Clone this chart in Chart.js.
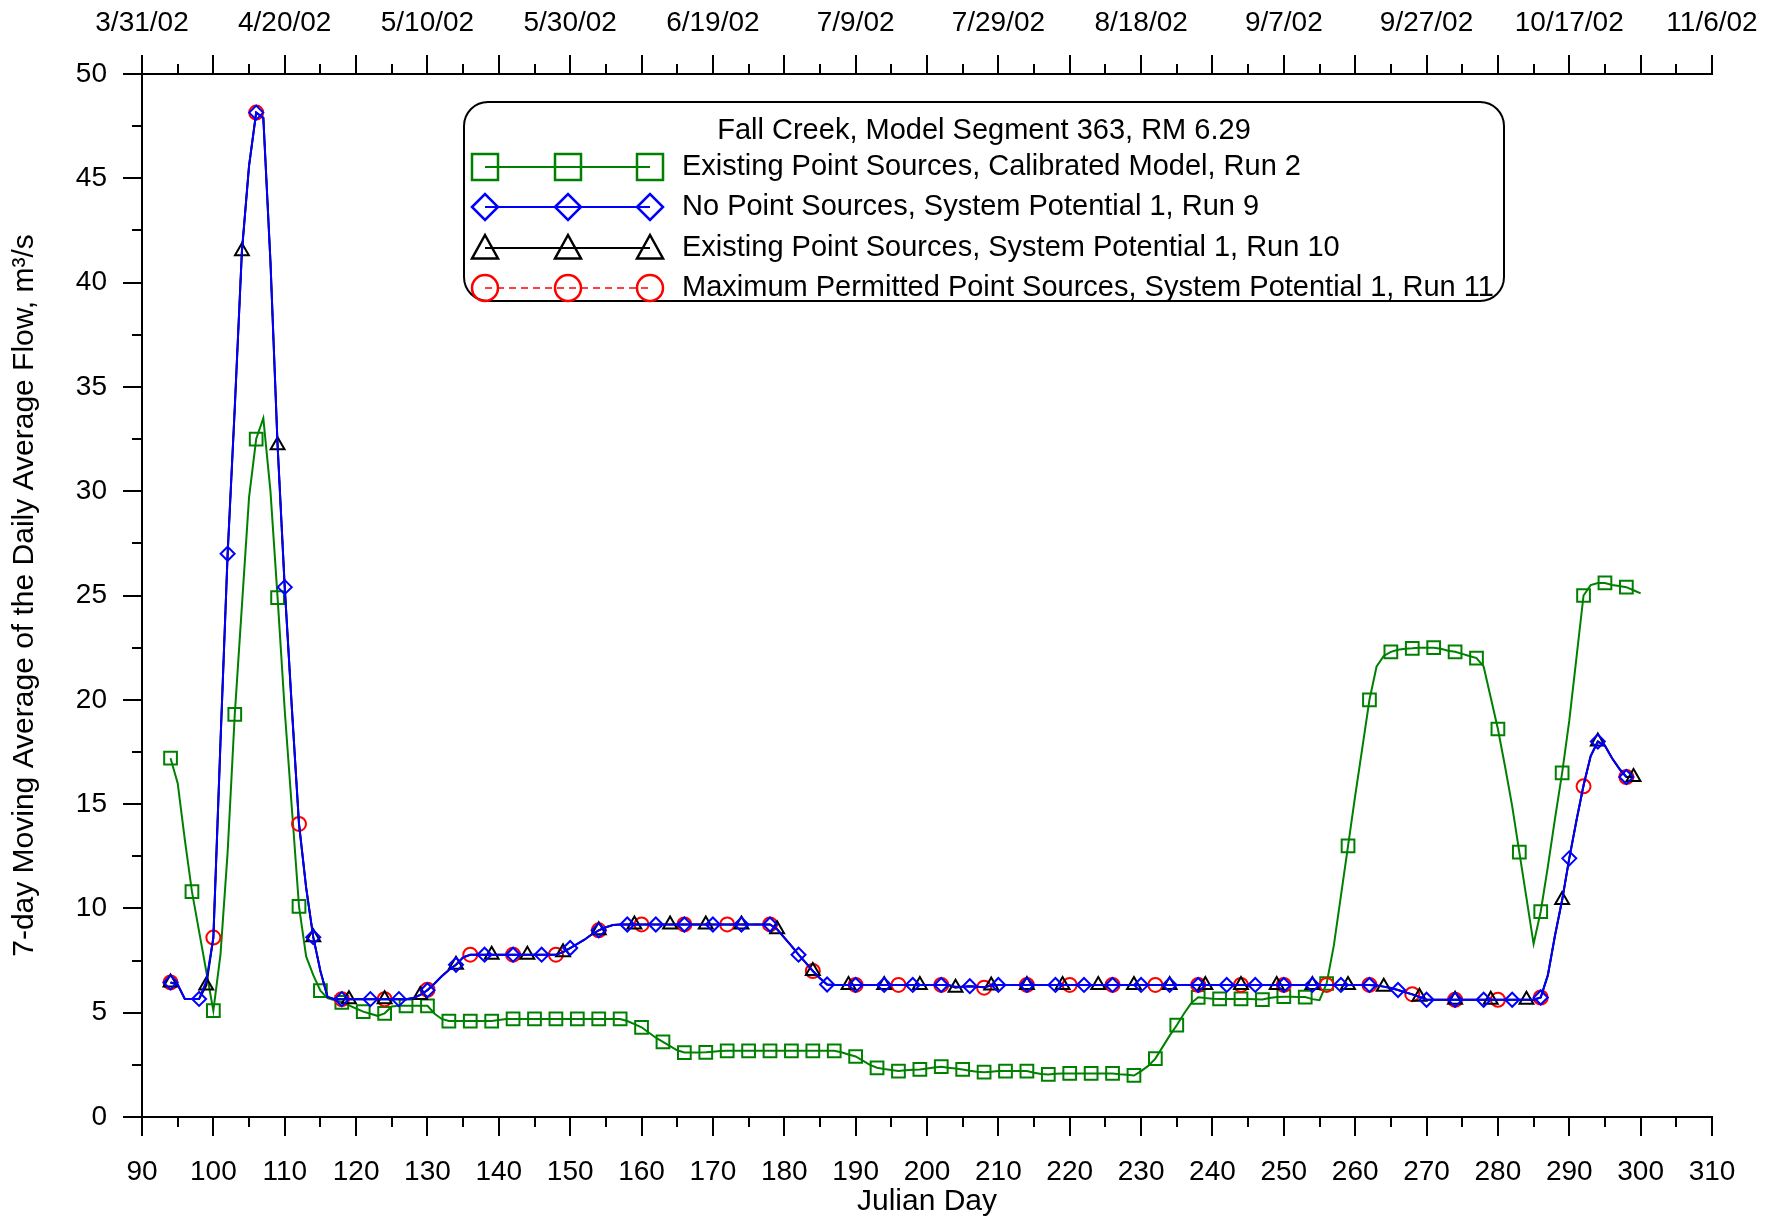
<!DOCTYPE html>
<html>
<head>
<meta charset="utf-8">
<title>Fall Creek, Model Segment 363</title>
<script src="https://cdn.jsdelivr.net/npm/chart.js@4.4.1/dist/chart.umd.min.js"></script>
<style>
  html, body { margin: 0; padding: 0; background: #fff; }
  #wrap { width: 1782px; height: 1220px; }
</style>
</head>
<body>
<div id="wrap"><canvas id="flowChart" width="1782" height="1220"></canvas></div>
<script>
// ==========================
// DATA (Julian day 94 onward, one value per day)
// ==========================
const julianDays = Array.from({ length: 207 }, (_, i) => 94 + i);

const topDateLabels = ["3/31/02", "4/20/02", "5/10/02", "5/30/02", "6/19/02", "7/9/02",
                       "7/29/02", "8/18/02", "9/7/02", "9/27/02", "10/17/02", "11/6/02"];

// Existing Point Sources, Calibrated Model, Run 2 (days 94-300)
const calibratedRun2 = [
  17.2, 16.0, 13.3, 10.8, 8.9, 7.0, 5.1, 7.8, 12.7, 19.3,
  24.5, 29.7, 32.5, 33.5, 30.0, 24.9, 19.5, 14.8, 10.1, 7.7,
  6.8, 6.06, 5.7, 5.6, 5.5, 5.35, 5.2, 5.05, 4.95, 4.85,
  4.97, 5.3, 5.33, 5.33, 5.33, 5.33, 5.33, 4.95, 4.7, 4.6,
  4.6, 4.6, 4.6, 4.6, 4.6, 4.6, 4.65, 4.7, 4.7, 4.7,
  4.7, 4.7, 4.7, 4.7, 4.7, 4.7, 4.7, 4.7, 4.7, 4.7,
  4.7, 4.7, 4.7, 4.7, 4.6, 4.45, 4.3, 4.05, 3.8, 3.6,
  3.4, 3.2, 3.09, 3.09, 3.09, 3.1, 3.13, 3.16, 3.17, 3.17,
  3.17, 3.17, 3.17, 3.17, 3.17, 3.17, 3.17, 3.17, 3.17, 3.17,
  3.17, 3.17, 3.17, 3.17, 3.1, 3.0, 2.9, 2.7, 2.5, 2.36,
  2.3, 2.25, 2.2, 2.24, 2.27, 2.28, 2.32, 2.37, 2.41, 2.36,
  2.32, 2.28, 2.22, 2.17, 2.15, 2.17, 2.2, 2.2, 2.2, 2.2,
  2.2, 2.12, 2.06, 2.04, 2.07, 2.09, 2.09, 2.09, 2.09, 2.09,
  2.09, 2.09, 2.09, 2.05, 2.02, 1.99, 2.2, 2.45, 2.8, 3.35,
  3.9, 4.4, 4.95, 5.45, 5.74, 5.7, 5.67, 5.66, 5.66, 5.66,
  5.66, 5.66, 5.65, 5.63, 5.7, 5.75, 5.77, 5.76, 5.75, 5.75,
  5.65, 5.6, 6.4, 8.2, 10.6, 13.0, 15.4, 17.7, 20.0, 21.6,
  22.1, 22.3, 22.4, 22.45, 22.47, 22.5, 22.5, 22.5, 22.45, 22.35,
  22.3, 22.2, 22.1, 22.0, 21.6, 20.1, 18.6, 16.8, 14.9, 12.7,
  10.5, 8.3, 9.85, 12.0, 14.3, 16.5, 19.0, 22.0, 25.0, 25.5,
  25.6, 25.6, 25.5, 25.45, 25.4, 25.25, 25.1
];

// No Point Sources, System Potential 1, Run 9 (days 94-298)
const noSourcesRun9 = [
  6.45, 6.35, 5.66, 5.66, 5.66, 6.5, 8.6, 18.0, 27.0, 34.0,
  41.5, 45.6, 48.15, 47.9, 41.0, 32.2, 25.4, 19.6, 14.05, 11.0,
  8.62, 7.0, 5.75, 5.65, 5.65, 5.65, 5.65, 5.65, 5.65, 5.65,
  5.65, 5.65, 5.65, 5.65, 5.7, 5.85, 6.08, 6.4, 6.75, 7.05,
  7.3, 7.65, 7.78, 7.78, 7.78, 7.78, 7.78, 7.78, 7.78, 7.78,
  7.78, 7.78, 7.78, 7.78, 7.78, 7.9, 8.1, 8.3, 8.5, 8.75,
  8.95, 9.1, 9.2, 9.23, 9.23, 9.23, 9.23, 9.23, 9.23, 9.23,
  9.23, 9.23, 9.23, 9.23, 9.23, 9.23, 9.23, 9.23, 9.23, 9.23,
  9.23, 9.23, 9.23, 9.23, 9.23, 9.0, 8.6, 8.2, 7.78, 7.4,
  7.0, 6.65, 6.35, 6.33, 6.33, 6.33, 6.33, 6.33, 6.33, 6.33,
  6.33, 6.33, 6.33, 6.33, 6.33, 6.33, 6.33, 6.33, 6.33, 6.33,
  6.25, 6.25, 6.27, 6.25, 6.22, 6.3, 6.33, 6.33, 6.33, 6.33,
  6.33, 6.33, 6.33, 6.33, 6.33, 6.33, 6.33, 6.33, 6.33, 6.33,
  6.33, 6.33, 6.33, 6.33, 6.33, 6.33, 6.33, 6.33, 6.33, 6.33,
  6.33, 6.33, 6.33, 6.33, 6.33, 6.33, 6.33, 6.33, 6.33, 6.33,
  6.33, 6.33, 6.33, 6.33, 6.33, 6.33, 6.33, 6.33, 6.33, 6.33,
  6.33, 6.33, 6.33, 6.33, 6.33, 6.33, 6.33, 6.33, 6.33, 6.3,
  6.25, 6.18, 6.09, 5.98, 5.88, 5.75, 5.62, 5.62, 5.62, 5.62,
  5.62, 5.62, 5.62, 5.62, 5.62, 5.62, 5.62, 5.62, 5.62, 5.62,
  5.62, 5.62, 5.73, 6.8, 8.7, 10.4, 12.4, 14.2, 15.9, 17.3,
  18.0, 17.8, 17.2, 16.7, 16.3
];

// Existing Point Sources, System Potential 1, Run 10 (days 94-299)
const existingRun10 = [
  6.45, 6.35, 5.66, 5.66, 5.66, 6.3, 8.6, 18.0, 27.0, 34.0,
  41.5, 45.6, 48.15, 47.9, 41.0, 32.2, 25.4, 19.6, 14.05, 11.0,
  8.62, 7.0, 5.75, 5.65, 5.65, 5.65, 5.65, 5.65, 5.65, 5.65,
  5.65, 5.65, 5.65, 5.65, 5.7, 5.85, 6.08, 6.4, 6.75, 7.05,
  7.3, 7.65, 7.78, 7.78, 7.78, 7.78, 7.78, 7.78, 7.78, 7.78,
  7.78, 7.78, 7.78, 7.78, 7.78, 7.9, 8.1, 8.3, 8.5, 8.75,
  8.95, 9.1, 9.2, 9.23, 9.23, 9.23, 9.23, 9.23, 9.23, 9.23,
  9.23, 9.23, 9.23, 9.23, 9.23, 9.23, 9.23, 9.23, 9.23, 9.23,
  9.23, 9.23, 9.23, 9.23, 9.23, 9.0, 8.6, 8.2, 7.78, 7.4,
  7.0, 6.65, 6.35, 6.33, 6.33, 6.33, 6.33, 6.33, 6.33, 6.33,
  6.33, 6.33, 6.33, 6.33, 6.33, 6.33, 6.33, 6.33, 6.33, 6.33,
  6.2, 6.25, 6.27, 6.25, 6.22, 6.3, 6.33, 6.33, 6.33, 6.33,
  6.33, 6.33, 6.33, 6.33, 6.33, 6.33, 6.33, 6.33, 6.33, 6.33,
  6.33, 6.33, 6.33, 6.33, 6.33, 6.33, 6.33, 6.33, 6.33, 6.33,
  6.33, 6.33, 6.33, 6.33, 6.33, 6.33, 6.33, 6.33, 6.33, 6.33,
  6.33, 6.33, 6.33, 6.33, 6.33, 6.33, 6.33, 6.33, 6.33, 6.33,
  6.33, 6.33, 6.33, 6.33, 6.33, 6.33, 6.33, 6.33, 6.33, 6.3,
  6.25, 6.18, 6.09, 5.98, 5.88, 5.76, 5.62, 5.62, 5.62, 5.62,
  5.62, 5.62, 5.62, 5.62, 5.62, 5.62, 5.62, 5.62, 5.62, 5.62,
  5.62, 5.62, 5.73, 6.8, 8.7, 10.4, 12.4, 14.2, 15.9, 17.3,
  18.0, 17.8, 17.2, 16.7, 16.3, 16.3
];

// Maximum Permitted Point Sources, System Potential 1, Run 11 (days 94-298)
const maxPermittedRun11 = [
  6.45, 6.35, 5.66, 5.66, 5.66, 6.4, 8.6, 18.0, 27.0, 34.0,
  41.5, 45.6, 48.15, 47.9, 41.0, 32.2, 25.4, 19.6, 14.05, 11.0,
  8.62, 7.0, 5.75, 5.65, 5.65, 5.65, 5.65, 5.65, 5.65, 5.65,
  5.65, 5.65, 5.65, 5.65, 5.7, 5.85, 6.1, 6.4, 6.75, 7.05,
  7.3, 7.65, 7.78, 7.78, 7.78, 7.78, 7.78, 7.78, 7.78, 7.78,
  7.78, 7.78, 7.78, 7.78, 7.78, 7.9, 8.1, 8.3, 8.5, 8.75,
  8.95, 9.1, 9.2, 9.23, 9.23, 9.23, 9.23, 9.23, 9.23, 9.23,
  9.23, 9.23, 9.23, 9.23, 9.23, 9.23, 9.23, 9.23, 9.23, 9.23,
  9.23, 9.23, 9.23, 9.23, 9.23, 9.0, 8.6, 8.2, 7.78, 7.4,
  7.0, 6.65, 6.35, 6.33, 6.33, 6.33, 6.33, 6.33, 6.33, 6.33,
  6.33, 6.33, 6.33, 6.33, 6.33, 6.33, 6.33, 6.33, 6.33, 6.33,
  6.25, 6.25, 6.27, 6.25, 6.2, 6.3, 6.33, 6.33, 6.33, 6.33,
  6.33, 6.33, 6.33, 6.33, 6.33, 6.33, 6.33, 6.33, 6.33, 6.33,
  6.33, 6.33, 6.33, 6.33, 6.33, 6.33, 6.33, 6.33, 6.33, 6.33,
  6.33, 6.33, 6.33, 6.33, 6.33, 6.33, 6.33, 6.33, 6.33, 6.33,
  6.33, 6.33, 6.33, 6.33, 6.33, 6.33, 6.33, 6.33, 6.33, 6.33,
  6.33, 6.33, 6.33, 6.33, 6.33, 6.33, 6.33, 6.33, 6.33, 6.3,
  6.25, 6.18, 6.09, 5.98, 5.89, 5.75, 5.62, 5.62, 5.62, 5.62,
  5.62, 5.62, 5.62, 5.62, 5.62, 5.62, 5.62, 5.62, 5.62, 5.62,
  5.62, 5.62, 5.73, 6.8, 8.7, 10.4, 12.4, 14.2, 15.85, 17.3,
  18.0, 17.8, 17.2, 16.7, 16.3
];

const legendTitle = "Fall Creek, Model Segment 363, RM 6.29";
const fontFamily = '"Liberation Sans", Arial, Helvetica, sans-serif';

function toPoints(values) {
    return values.map((v, i) => ({ x: julianDays[i], y: v }));
}

// marker only every Nth day, like the original plot
function markerRadius(ctx) {
    if (ctx.type !== 'data' || !ctx.raw) return 0;
    let ds = ctx.dataset;
    return (ctx.raw.x - 94) % ds.markerStep === 0 ? ds.markerSize : 0;
}

const seriesList = [
    { label: "Existing Point Sources, Calibrated Model, Run 2", data: toPoints(calibratedRun2),
      borderColor: "#008000", borderWidth: 2, pointStyle: "rect", markerStep: 3, markerSize: 9, order: 4 },
    { label: "No Point Sources, System Potential 1, Run 9", data: toPoints(noSourcesRun9),
      borderColor: "#0000ff", borderWidth: 2, pointStyle: "rectRot", markerStep: 4, markerSize: 7, order: 1 },
    { label: "Existing Point Sources, System Potential 1, Run 10", data: toPoints(existingRun10),
      borderColor: "#000000", borderWidth: 2, pointStyle: "triangle", markerStep: 5, markerSize: 8, order: 2 },
    { label: "Maximum Permitted Point Sources, System Potential 1, Run 11", data: toPoints(maxPermittedRun11),
      borderColor: "#ff0000", borderWidth: 1.5, borderDash: [7, 5], pointStyle: "circle", markerStep: 6, markerSize: 7, order: 3 }
];

seriesList.forEach(s => {
    s.backgroundColor = "transparent";
    s.pointBackgroundColor = "transparent";
    s.pointBorderColor = s.borderColor;
    s.pointBorderWidth = 2;
    s.pointRadius = markerRadius;
    s.tension = 0;
    s.fill = false;
});

// ==========================
// MINOR TICKS
// ==========================
const minorTicks = {
    id: "minorTicks",
    afterDraw(chart) {
        let ctx = chart.ctx;
        let a = chart.chartArea;
        let xs = chart.scales.x;
        let ys = chart.scales.y;
        ctx.save();
        ctx.strokeStyle = "#000";
        ctx.lineWidth = 2;
        ctx.beginPath();
        for (let v = 95; v < 310; v += 10) {
            let px = Math.round(xs.getPixelForValue(v));
            ctx.moveTo(px, a.bottom);
            ctx.lineTo(px, a.bottom + 10);
            ctx.moveTo(px, a.top);
            ctx.lineTo(px, a.top - 10);
        }
        for (let v = 2.5; v < 50; v += 5) {
            let py = Math.round(ys.getPixelForValue(v));
            ctx.moveTo(a.left - 10, py);
            ctx.lineTo(a.left, py);
        }
        ctx.stroke();
        ctx.restore();
    }
};

// ==========================
// LEGEND BOX
// ==========================
function drawShape(ctx, style, x, y, r) {
    ctx.beginPath();
    if (style === "rect") {
        ctx.rect(x - r, y - r, 2 * r, 2 * r);
    } else if (style === "rectRot") {
        ctx.moveTo(x - r, y);
        ctx.lineTo(x, y - r);
        ctx.lineTo(x + r, y);
        ctx.lineTo(x, y + r);
        ctx.closePath();
    } else if (style === "triangle") {
        ctx.moveTo(x, y - r);
        ctx.lineTo(x + r, y + r * 0.8);
        ctx.lineTo(x - r, y + r * 0.8);
        ctx.closePath();
    } else {
        ctx.arc(x, y, r, 0, Math.PI * 2);
    }
    ctx.stroke();
}

const legendBox = {
    id: "legendBox",
    afterDraw(chart) {
        let ctx = chart.ctx;
        let left = 464, top = 102, w = 1040, h = 199, rad = 24;
        ctx.save();
        ctx.beginPath();
        ctx.moveTo(left + rad, top);
        ctx.arcTo(left + w, top, left + w, top + h, rad);
        ctx.arcTo(left + w, top + h, left, top + h, rad);
        ctx.arcTo(left, top + h, left, top, rad);
        ctx.arcTo(left, top, left + w, top, rad);
        ctx.closePath();
        ctx.fillStyle = "#fff";
        ctx.fill();
        ctx.lineWidth = 2;
        ctx.strokeStyle = "#000";
        ctx.stroke();

        ctx.font = "29px " + fontFamily;
        ctx.fillStyle = "#000";
        ctx.textBaseline = "middle";
        ctx.textAlign = "center";
        ctx.fillText(legendTitle, left + w / 2, 131);

        let rows = [167, 207, 248, 288];
        let sampleX = [485, 568, 650];
        ctx.textAlign = "left";
        seriesList.forEach((s, i) => {
            let y = rows[i];
            ctx.strokeStyle = s.borderColor;
            ctx.lineWidth = s.borderWidth;
            ctx.setLineDash(s.borderDash || []);
            ctx.beginPath();
            ctx.moveTo(sampleX[0], y);
            ctx.lineTo(sampleX[2], y);
            ctx.stroke();
            ctx.setLineDash([]);
            ctx.lineWidth = 2.5;
            sampleX.forEach(x => drawShape(ctx, s.pointStyle, x, y, 13));
            ctx.fillStyle = "#000";
            ctx.fillText(s.label, 682, y);
        });
        ctx.restore();
    }
};

// ==========================
// CHART
// ==========================
Chart.defaults.font.family = fontFamily;
Chart.defaults.font.size = 28;
Chart.defaults.color = "#000";

const axisGrid = { drawOnChartArea: false, drawTicks: true, tickLength: 19, color: "#000", lineWidth: 2, tickColor: "#000" };
const axisBorder = { display: true, color: "#000", width: 2 };

new Chart(document.getElementById("flowChart").getContext("2d"), {
    type: "line",
    data: { datasets: seriesList },
    plugins: [minorTicks, legendBox],
    options: {
        responsive: false,
        devicePixelRatio: 1,
        animation: false,
        events: [],
        layout: { padding: { left: 0, right: 70, top: 0, bottom: 0 } },
        plugins: { legend: { display: false }, tooltip: { enabled: false } },
        scales: {
            x: {
                type: "linear", position: "bottom", min: 90, max: 310,
                ticks: { stepSize: 10, autoSkip: false, maxRotation: 0, padding: 19 },
                grid: axisGrid, border: axisBorder,
                title: { display: true, text: "Julian Day", font: { size: 30 }, padding: { top: 0, bottom: 0 } },
                afterFit(scale) { scale.height = 103; }
            },
            xTop: {
                type: "linear", position: "top", min: 90, max: 310,
                ticks: {
                    stepSize: 10, autoSkip: false, maxRotation: 0, padding: 15,
                    callback: function (v) {
                        return (v - 90) % 20 === 0 ? topDateLabels[(v - 90) / 20] : "";
                    }
                },
                grid: axisGrid, border: axisBorder,
                afterFit(scale) { scale.height = 74; }
            },
            y: {
                type: "linear", position: "left", min: 0, max: 50,
                ticks: { stepSize: 5, padding: 16 },
                grid: axisGrid, border: axisBorder,
                title: { display: true, text: "7-day Moving Average of the Daily Average Flow, m³/s", font: { size: 30 }, padding: { top: 7, bottom: 0 } },
                afterFit(scale) { scale.width = 142; }
            }
        }
    }
});
</script>
</body>
</html>
